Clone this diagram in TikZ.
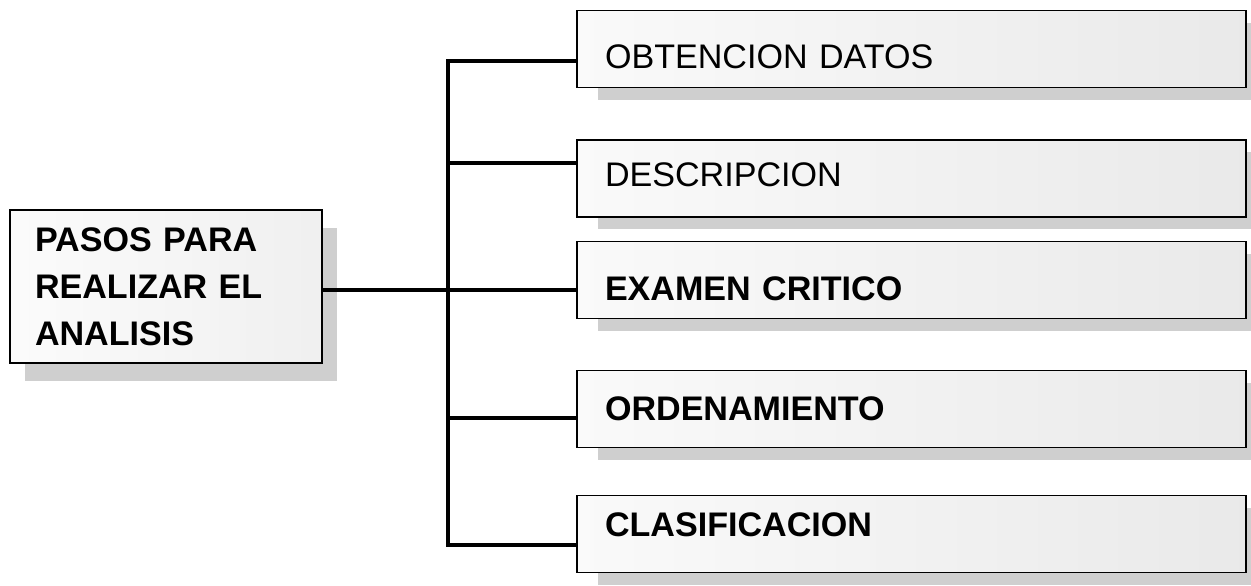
\documentclass[tikz,border=0pt]{standalone}
\usepackage{fontspec}
\setmainfont{Liberation Sans}
\usetikzlibrary{shadows}

\tikzset{
    caja/.style={draw, line width=1.1pt, left color=gray!4, right color=gray!17,
        drop shadow={shadow xshift=0.42cm, shadow yshift=-0.25cm, fill=gray!38, opacity=1},
        minimum width=13.38cm, minimum height=1.54cm, inner xsep=0.56cm, inner ysep=0pt,
        text width=12.26cm, align=left, font=\fontsize{19.4}{26.7}\selectfont},
    negrita/.style={font=\bfseries\fontsize{19.4}{26.7}\selectfont},
    rama/.style={line width=2.6pt}
}
\newcommand{\bajar}[2]{\raisebox{#1}[\height][\depth]{#2}}

\begin{document}
\begin{tikzpicture}
    \useasboundingbox (0,0) rectangle (25.02,11.72);

    %caja principal
    \node[draw, line width=1.1pt, left color=gray!3, right color=gray!12,
        drop shadow={shadow xshift=0.3cm, shadow yshift=-0.36cm, fill=gray!38, opacity=1},
        minimum width=6.24cm, minimum height=3.06cm, inner xsep=0.5cm, text width=5.24cm,
        align=left, font=\bfseries\fontsize{19.4}{26.7}\selectfont]
        (pasos) at (3.32,5.99) {PASOS PARA\\REALIZAR EL\\ANALISIS};

    %pasos
    \node[caja] (datos) at (18.23,10.74) {\bajar{-0.16cm}{OBTENCION DATOS}};
    \node[caja] (descr) at (18.23,8.15) {\bajar{0.08cm}{DESCRIPCION}};
    \node[caja, negrita] (examen) at (18.23,6.12) {\bajar{-0.18cm}{EXAMEN CRITICO}};
    \node[caja, negrita] (orden) at (18.23,3.54) {ORDENAMIENTO};
    \node[caja, negrita] (clasif) at (18.23,1.04) {\bajar{0.18cm}{CLASIFICACION}};

    %tronco
    \coordinate (t1) at (8.96,10.5);
    \coordinate (t2) at (8.96,8.46);
    \coordinate (t3) at (8.96,5.92);
    \coordinate (t4) at (8.96,3.36);
    \coordinate (t5) at (8.96,0.82);

    \draw[rama] (t1 -| datos.west) -- (t1) -- (t5) -- (t5 -| clasif.west);
    \draw[rama] (t2) -- (t2 -| descr.west);
    \draw[rama] (t3 -| pasos.east) -- (t3 -| examen.west);
    \draw[rama] (t4) -- (t4 -| orden.west);
\end{tikzpicture}
\end{document}
